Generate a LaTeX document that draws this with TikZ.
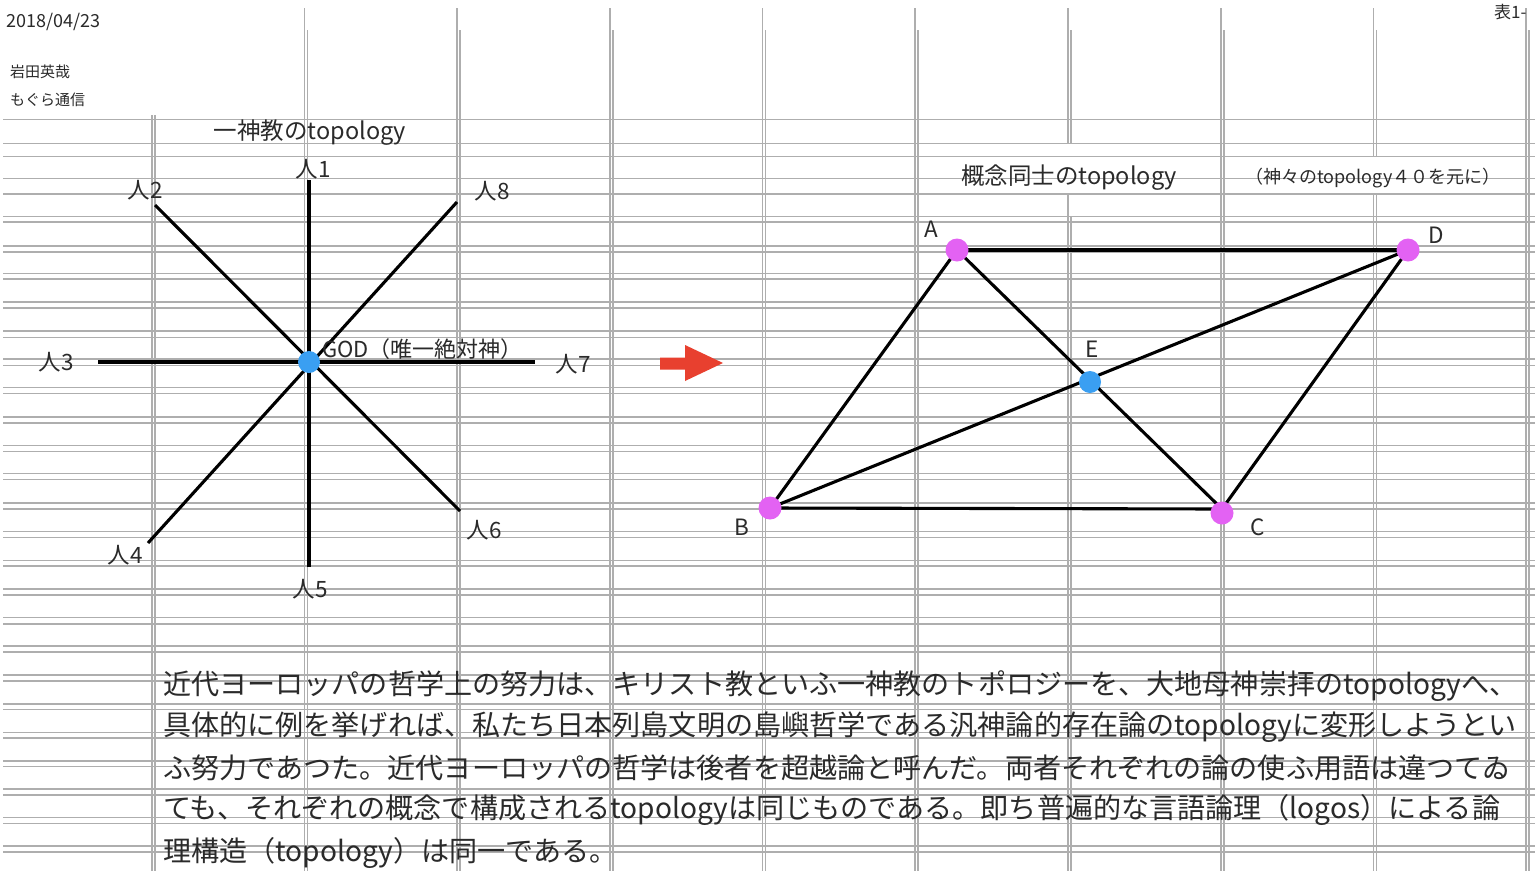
\documentclass[tikz,border=0pt]{standalone}
\usepackage{fontspec}
\setmainfont{Noto Sans CJK JP}
\definecolor{gridc}{HTML}{AEAEAE}
\definecolor{txt}{HTML}{2A2A2A}
\definecolor{bluedot}{HTML}{3A9FF2}
\definecolor{magdot}{HTML}{E362F3}
\definecolor{arrowred}{HTML}{E8402F}
\tikzset{
  gridline/.style={draw=gridc, line width=1.3pt},
  edge/.style={draw=black, line width=3.1pt},
  lbl/.style={inner sep=0pt, text=txt, font=\fontsize{22.5}{25}\selectfont},
  ttl/.style={inner sep=0pt, text=txt, font=\fontsize{23.5}{26}\selectfont},
  para/.style={inner sep=0pt, anchor=west, text=txt, font=\fontsize{28.1}{30}\selectfont},
  bdot/.style={circle, fill=bluedot, minimum size=22pt, inner sep=0pt},
  mdot/.style={circle, fill=magdot, minimum size=23pt, inner sep=0pt},
}
\begin{document}
\begin{tikzpicture}[x=1pt, y=-1pt]
\useasboundingbox[fill=white] (0,0) rectangle (1535,871);
% ---------- grid ----------
\foreach \yy in {119.3,143.3,156.7,178.5,194,216.5,222,246,252,273.5,279,302,308,331,337.5,359,365.5,387.6,393.5,417,423,445.6,451.5,473.6,479.5,503,509,531.7,537.6,560.7,566,589,595,617.7,624,646,652,675,681,704,709.6,732.7,738,761,766.7,789,795,817.8,823.7,846,852}
  \draw[gridline] (3,\yy) -- (1535,\yy);
\foreach \xx in {304.5,457,610,762.5,915,1221,1526}
  \draw[gridline] (\xx,8) -- (\xx,871);
\foreach \xx in {307.5,460,613,765.5,918,1224,1529}
  \draw[gridline] (\xx,30) -- (\xx,871);
\draw[gridline] (152,115) -- (152,871);
\draw[gridline] (155,115) -- (155,871);
\draw[gridline] (1068,8) -- (1068,143.3) (1068,194) -- (1068,871);
\draw[gridline] (1071,30) -- (1071,143.3) (1071,216.5) -- (1071,871);
\draw[gridline] (1373.5,8) -- (1373.5,156.7) (1373.5,194) -- (1373.5,871);
\draw[gridline] (1376.5,30) -- (1376.5,156.7) (1376.5,194) -- (1376.5,871);
% ---------- header ----------
\node[inner sep=0pt, anchor=west, text=txt, font=\fontsize{18}{20}\selectfont] (date) at (6,22) {2018/04/23};
\node[inner sep=0pt, anchor=west, text=txt, font=\fontsize{15}{17}\selectfont] (author) at (10,72) {岩田英哉};
\node[inner sep=0pt, anchor=west, text=txt, font=\fontsize{15}{17}\selectfont] (mag) at (10,100) {もぐら通信};
\node[inner sep=0pt, anchor=west, text=txt, font=\fontsize{17}{19}\selectfont] (hyo) at (1494,12) {表1-};
% ---------- left diagram ----------
\node[ttl] (t1) at (310,133) {一神教のtopology};
\coordinate (god) at (309,362);
\coordinate (p1) at (309,180);
\coordinate (p5) at (309,567);
\coordinate (p3) at (98,362);
\coordinate (p7) at (535,362);
\coordinate (p2) at (155,205);
\coordinate (p6) at (460,511);
\coordinate (p4) at (148,543);
\coordinate (p8) at (457,202);
\draw[edge] (p1) -- (p5);
\draw[edge] (p3) -- (p7);
\draw[edge] (p2) -- (p6);
\draw[edge] (p4) -- (p8);
\node[bdot] (goddot) at (god) {};
\node[lbl, anchor=west, font=\fontsize{22}{25}\selectfont] (godl) at (322,349) {GOD（唯一絶対神）};
\node[lbl] (l1) at (313,169) {人1};
\node[lbl] (l2) at (145,190) {人2};
\node[lbl] (l8) at (492,191) {人8};
\node[lbl] (l3) at (56,362) {人3};
\node[lbl] (l7) at (573,364) {人7};
\node[lbl] (l4) at (125,555) {人4};
\node[lbl] (l5) at (310,589) {人5};
\node[lbl] (l6) at (484,530) {人6};
% ---------- red arrow ----------
\fill[arrowred] (660,357.5) -- (685,357.5) -- (685,345) -- (723,363) -- (685,381) -- (685,369.5) -- (660,369.5) -- cycle;
% ---------- right diagram ----------
\node[ttl] (t2) at (1069,178) {概念同士のtopology};
\node[inner sep=0pt, text=txt, font=\fontsize{18}{20}\selectfont] (t3) at (1373,178) {（神々のtopology４０を元に）};
\coordinate (A) at (957,250);
\coordinate (D) at (1408,250);
\coordinate (B) at (770,508);
\coordinate (C) at (1222,509);
\coordinate (E) at (1090,382);
\draw[edge] (A) -- (D);
\draw[edge] (B) -- (C);
\draw[edge] (A) -- (B);
\draw[edge] (D) -- (C);
\draw[edge] (A) -- (C);
\draw[edge] (B) -- (D);
\node[mdot] (Ad) at (A) {};
\node[mdot] (Dd) at (D) {};
\node[mdot] (Bd) at (B) {};
\node[mdot] (Cd) at (1222,513) {};
\node[bdot] (Ed) at (E) {};
\node[lbl] (la) at (931,229) {A};
\node[lbl] (ld) at (1436,235) {D};
\node[lbl] (le) at (1092,349) {E};
\node[lbl] (lb) at (742,527) {B};
\node[lbl] (lc) at (1258,527) {C};
% ---------- paragraph ----------
\node[para] (r1) at (163,686) {近代ヨーロッパの哲学上の努力は、キリスト教といふ一神教のトポロジーを、大地母神崇拝のtopologyへ、};
\node[para] (r2) at (163,727) {具体的に例を挙げれば、私たち日本列島文明の島嶼哲学である汎神論的存在論のtopologyに変形しようとい};
\node[para] (r3) at (163,768) {ふ努力であつた。近代ヨーロッパの哲学は後者を超越論と呼んだ。両者それぞれの論の使ふ用語は違つてゐ};
\node[para] (r4) at (163,810) {ても、それぞれの概念で構成されるtopologyは同じものである。即ち普遍的な言語論理（logos）による論};
\node[para] (r5) at (163,853) {理構造（topology）は同一である。};
\end{tikzpicture}
\end{document}
